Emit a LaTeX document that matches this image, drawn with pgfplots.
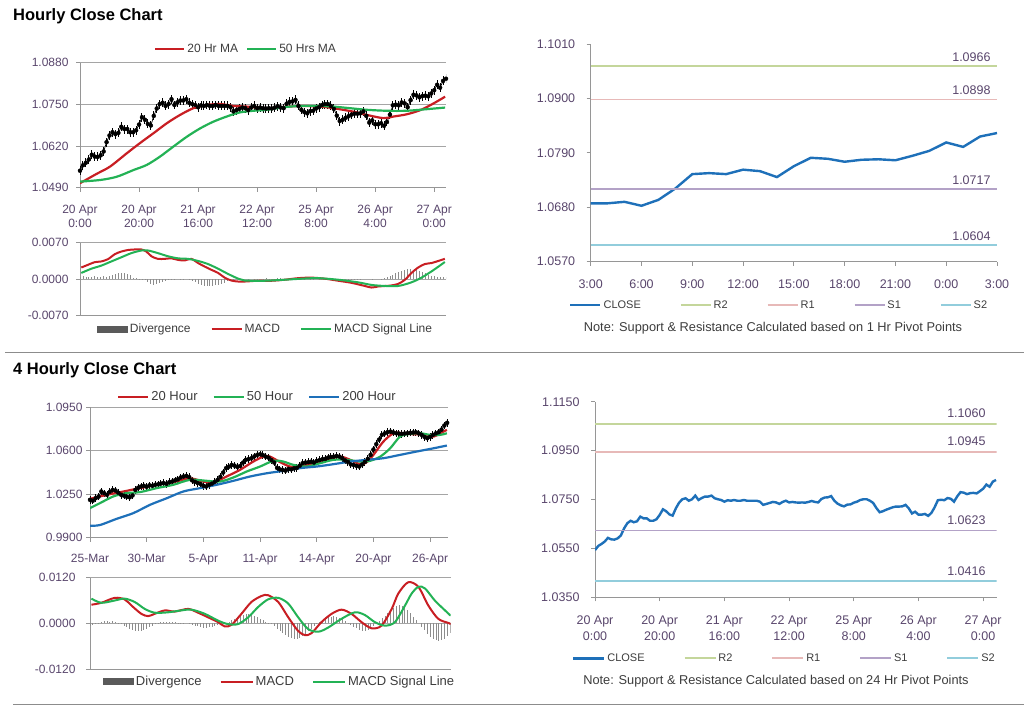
\documentclass[border=0pt]{standalone}
\usepackage{fontspec}
\setmainfont{Liberation Sans}
\usepackage{pgfplots}
\usepackage{pgfplotstable}
\pgfplotsset{compat=1.18}

\definecolor{tickcol}{RGB}{89,70,108}
\definecolor{legtext}{RGB}{60,60,60}
\definecolor{axgray}{RGB}{150,150,150}
\definecolor{gridgray}{RGB}{165,165,165}
\definecolor{mared}{RGB}{200,30,35}
\definecolor{magreen}{RGB}{35,178,85}
\definecolor{closeblue}{RGB}{30,112,185}
\definecolor{rtwo}{RGB}{196,214,155}
\definecolor{rone}{RGB}{231,185,184}
\definecolor{sone}{RGB}{179,162,199}
\definecolor{stwo}{RGB}{146,205,220}
\definecolor{divgray}{RGB}{140,140,140}
\definecolor{divleg}{RGB}{90,90,90}
\definecolor{sepgray}{RGB}{140,140,140}

\newcommand{\tkf}{\fontsize{12}{13.4}\selectfont}
\newcommand{\tkr}{\fontsize{12.5}{15.5}\selectfont}

\pgfplotsset{
 base/.style={scale only axis, anchor=south west,
   axis x line*=bottom, axis y line*=left,
   axis line style={draw=axgray, line width=1pt},
   tick style={draw=axgray, line width=0.8pt},
   tick align=outside, major tick length=4pt,
   scaled y ticks=false, scaled x ticks=false,
   ticklabel style={font=\tkf, text=tickcol},
   grid style={draw=gridgray, line width=1pt}},
 leg/.style n args={5}{legend style={at={(#1,#2)}, anchor=west, draw=none, fill=none,
   inner sep=0pt, font=\fontsize{#5}{14}\selectfont, text=legtext, legend columns=-1,
   cells={anchor=west}, nodes={inner sep=2pt},
   /tikz/every even column/.append style={column sep=#3}},
   legend image code/.code={\draw[##1] (0pt,0pt) -- (#4,0pt);}},
 ohlc/.style={black, only marks, mark=none, forget plot,
   error bars/.cd, y dir=both, y fixed=#1, error mark=none,
   error bar style={line width=1pt, black}},
}

% ---------------- hourly close (20 Apr 0:00 = 0) ----------------
\pgfplotstableread{
i c
0 1.0543
1 1.0560
2 1.0568
3 1.0578
4 1.0593
5 1.0587
6 1.0586
7 1.0591
8 1.0603
9 1.0632
10 1.0653
11 1.0663
12 1.0657
13 1.0661
14 1.0680
15 1.0673
16 1.0673
17 1.0663
18 1.0663
19 1.0669
20 1.0687
21 1.0710
22 1.0702
23 1.0689
24 1.0684
25 1.0714
26 1.0737
27 1.0751
28 1.0755
29 1.0745
30 1.0751
31 1.0766
32 1.0748
33 1.0756
34 1.0762
35 1.0762
36 1.0766
37 1.0755
38 1.0751
39 1.0748
40 1.0741
41 1.0747
42 1.0745
43 1.0748
44 1.0745
45 1.0745
46 1.0748
47 1.0745
48 1.0745
49 1.0745
50 1.0745
51 1.0741
52 1.0728
53 1.0732
54 1.0736
55 1.0740
56 1.0738
57 1.0732
58 1.0740
59 1.0745
60 1.0738
61 1.0740
62 1.0738
63 1.0737
64 1.0738
65 1.0737
66 1.0740
67 1.0744
68 1.0740
69 1.0738
70 1.0752
71 1.0758
72 1.0759
73 1.0764
74 1.0745
75 1.0733
76 1.0726
77 1.0722
78 1.0729
79 1.0730
80 1.0737
81 1.0741
82 1.0748
83 1.0751
84 1.0751
85 1.0745
86 1.0736
87 1.0715
88 1.0698
89 1.0702
90 1.0708
91 1.0713
92 1.0718
93 1.0721
94 1.0721
95 1.0722
96 1.0728
97 1.0714
98 1.0693
99 1.0700
100 1.0688
101 1.0688
102 1.0691
103 1.0683
104 1.0695
105 1.0718
106 1.0747
107 1.0749
108 1.0747
109 1.0756
110 1.0753
111 1.0741
112 1.0763
113 1.0780
114 1.0778
115 1.0772
116 1.0776
117 1.0777
118 1.0775
119 1.0784
120 1.0794
121 1.0811
122 1.0802
123 1.0823
124 1.0830
}\hourly

\pgfplotstableread{
h c
0 1.0688
1 1.0688
2 1.0691
3 1.0683
4 1.0695
5 1.0718
6 1.0747
7 1.0749
8 1.0747
9 1.0756
10 1.0753
11 1.0741
12 1.0763
13 1.0780
14 1.0778
15 1.0772
16 1.0776
17 1.0777
18 1.0775
19 1.0784
20 1.0794
21 1.0811
22 1.0802
23 1.0823
24 1.0830
}\lastday

\pgfplotstableread{
i v
0 1.0504
5.6 1.0533
10.2 1.0556
15.8 1.0597
20.3 1.0629
24.9 1.0660
29.4 1.0691
33.9 1.0717
38.4 1.0738
42.9 1.0748
47.5 1.0751
52 1.0745
56.5 1.0743
63.3 1.0738
67.8 1.0741
74.6 1.0745
81.4 1.0743
85.9 1.0738
92.7 1.0727
97.2 1.0717
102.8 1.0707
106.2 1.0712
110.7 1.0719
115.3 1.0732
119.8 1.0753
123.7 1.0774
}\tlmatw

\pgfplotstableread{
i v
0 1.0509
6.8 1.0514
12.4 1.0524
18.1 1.0545
22.6 1.0561
27.1 1.0587
31.6 1.0618
36.2 1.0649
40.7 1.0675
45.2 1.0696
49.7 1.0712
54.2 1.0725
58.8 1.0730
63.3 1.0733
68.9 1.0741
74.6 1.0745
81.4 1.0745
85.9 1.0743
91.5 1.0738
97.2 1.0733
103.9 1.0730
110.7 1.0730
117.5 1.0735
123.7 1.0740
}\tlmafi

\pgfplotstableread{
i v
0.45 0.00225
2.7 0.00276
5.0 0.00327
7.2 0.0034
9.5 0.00385
11.8 0.0048
14.0 0.0053
16.3 0.0056
18.5 0.0057
20.8 0.0057
22.5 0.0053
24.2 0.0044
26.4 0.0039
28.7 0.0039
31.0 0.0040
33.2 0.0037
35.5 0.0036
37.7 0.0039
40.0 0.0031
42.3 0.0024
44.5 0.0018
46.8 0.0012
49.0 0.0003
51.3 -0.00026
53.6 -0.00045
55.8 -0.00045
60.3 -0.0003
64.9 -0.0003
69.4 -0.0001
73.9 0.0002
78.4 0.0003
82.9 0.0001
87.5 -0.0003
92.0 -0.0007
96.5 -0.0013
98.8 -0.0016
101.0 -0.0014
103.5 -0.0013
105.5 -0.0012
107.8 -0.0009
110.1 -0.0001
112.3 0.0012
114.6 0.00225
116.8 0.0029
119.1 0.0031
121.4 0.0035
123.6 0.0039
}\tlmacd

\pgfplotstableread{
i v
0.45 0.0012
3.8 0.0020
7.2 0.0026
10.6 0.0034
14.0 0.0042
17.4 0.0050
20.8 0.0055
23.1 0.0055
26.4 0.0050
29.8 0.0044
33.2 0.0040
36.6 0.0039
40.0 0.0035
43.4 0.0029
46.8 0.0020
50.2 0.0010
53.6 0.0001
55.8 -0.00026
62.6 -0.0003
69.4 -0.0001
76.2 0.00013
80.7 0.0002
87.5 -0.0001
94.2 -0.0006
98.8 -0.0011
103.3 -0.0013
107.8 -0.0013
112.3 -0.0006
115.7 0.0003
119.1 0.0015
121.4 0.0024
123.6 0.0033
}\tlsig

\pgfplotstableread{
i d
0 0.0005
1 0.0006
2 0.0005
3 0.0004
4 0.0005
5 0.0006
6 0.0004
7 0.0005
8 0.0006
9 0.0005
10 0.0007
11 0.0009
12 0.0010
13 0.0012
14 0.0011
15 0.0012
16 0.0010
17 0.0008
18 0.0003
19 0.0002
20 0.0001
21 0.0001
22 -0.0002
23 -0.0005
24 -0.0009
25 -0.0011
26 -0.0010
27 -0.0008
28 -0.0006
29 -0.0004
30 -0.0001
31 -0.0001
32 0.0001
33 0.0000
34 -0.0001
35 -0.0002
36 0.0000
37 -0.0001
38 -0.0003
39 -0.0006
40 -0.0009
41 -0.0011
42 -0.0013
43 -0.0014
44 -0.0014
45 -0.0013
46 -0.0012
47 -0.0011
48 -0.0009
49 -0.0007
50 -0.0004
51 -0.0002
52 -0.0001
53 0.0000
54 0.0000
55 0.0001
56 0.0000
57 -0.0001
58 0.0000
59 0.0001
60 0.0001
61 0.0000
62 0.0001
63 0.0002
64 0.0001
65 0.0000
66 0.0001
67 0.0002
68 0.0002
69 0.0001
70 0.0000
71 0.0001
72 0.0002
73 0.0001
74 0.0000
75 -0.0001
76 -0.0001
77 0.0000
78 0.0001
79 0.0001
80 0.0000
81 -0.0001
82 0.0000
83 0.0001
84 0.0000
85 -0.0001
86 -0.0001
87 -0.0002
88 -0.0003
89 -0.0003
90 -0.0002
91 -0.0003
92 -0.0002
93 -0.0001
94 -0.0002
95 -0.0001
96 0.0000
97 0.0000
98 0.0000
99 0.0001
100 0.0000
101 0.0000
102 0.0001
103 0.0002
104 0.0004
105 0.0006
106 0.0008
107 0.0011
108 0.0014
109 0.0016
110 0.0018
111 0.0019
112 0.0019
113 0.0018
114 0.0017
115 0.0015
116 0.0013
117 0.0011
118 0.0009
119 0.0007
120 0.0006
121 0.0005
122 0.0005
123 0.0004
124 0.0004
}\tldiv

% ---------------- 4-hourly ----------------
\pgfplotstableread{
j c
0 1.0205
1 1.0198
2 1.0218
3 1.0230
4 1.0272
5 1.0258
6 1.0245
7 1.0270
8 1.0285
9 1.0280
10 1.0262
11 1.0245
12 1.0238
13 1.0230
14 1.0225
15 1.0240
16 1.0285
17 1.0302
18 1.0312
19 1.0318
20 1.0310
21 1.0322
22 1.0318
23 1.0326
24 1.0330
25 1.0336
26 1.0340
27 1.0334
28 1.0347
29 1.0352
30 1.0362
31 1.0370
32 1.0385
33 1.0393
34 1.0398
35 1.0388
36 1.0362
37 1.0350
38 1.0340
39 1.0332
40 1.0318
41 1.0312
42 1.0326
43 1.0335
44 1.0348
45 1.0365
46 1.0390
47 1.0425
48 1.0460
49 1.0472
50 1.0486
51 1.0480
52 1.0470
53 1.0478
54 1.0505
55 1.0527
56 1.0533
57 1.0540
58 1.0555
59 1.0567
60 1.0572
61 1.0565
62 1.0552
63 1.0545
64 1.0525
65 1.0505
66 1.0462
67 1.0450
68 1.0446
69 1.0440
70 1.0454
71 1.0450
72 1.0458
73 1.0462
74 1.0480
75 1.0500
76 1.0505
77 1.0508
78 1.0512
79 1.0505
80 1.0519
81 1.0525
82 1.0532
83 1.0535
84 1.0545
85 1.0550
86 1.0553
87 1.0558
88 1.0553
89 1.0540
90 1.0522
91 1.0510
92 1.0490
93 1.0486
94 1.0478
95 1.0473
96 1.0490
97 1.0510
98 1.0535
99 1.0567
100 1.0610
101 1.0653
102 1.0690
103 1.0728
104 1.0740
105 1.0750
106 1.0754
107 1.0748
108 1.0741
109 1.0738
110 1.0736
111 1.0739
112 1.0741
113 1.0745
114 1.0747
115 1.0749
116 1.0740
117 1.0728
118 1.0712
119 1.0701
120 1.0712
121 1.0728
122 1.0740
123 1.0749
124 1.0770
125 1.0803
126 1.0825
}\fourh

\pgfplotstableread{
j v
0 1.0213
5.9 1.0245
11.8 1.0272
17.6 1.0299
23.5 1.0326
29.4 1.0347
35.3 1.0379
38.8 1.0358
43.5 1.0344
48.2 1.0393
52.9 1.0446
57.6 1.0513
61.2 1.0553
63.5 1.0553
67.1 1.0508
70.6 1.0473
74.1 1.0473
78.8 1.0500
83.5 1.0527
88.2 1.0553
91.8 1.0527
95.3 1.0492
97.6 1.0508
100 1.0567
103.5 1.0674
107.1 1.0741
110.6 1.0741
114.1 1.0733
117.6 1.0733
121.2 1.0714
123.5 1.0741
125.9 1.0768
}\blmatw

\pgfplotstableread{
j v
0 1.0138
3.5 1.0178
8.2 1.0232
12.9 1.0259
17.6 1.0267
23.5 1.0299
29.4 1.0326
35.3 1.0366
41.2 1.0358
45.9 1.0352
50.6 1.0385
55.3 1.0433
60 1.0473
64.7 1.0519
68.2 1.0513
71.8 1.0486
76.5 1.0473
81.2 1.0500
85.9 1.0527
90.6 1.0527
95.3 1.0513
98.8 1.0519
102.4 1.0553
105.9 1.0620
109.4 1.0714
112.9 1.0736
116.5 1.0741
120 1.0728
123.5 1.0728
125.9 1.0741
}\blmafi

\pgfplotstableread{
j v
0 0.9996
3.5 1.0002
9.4 1.0052
15.3 1.0098
21.2 1.0165
27.1 1.0218
32.9 1.0272
38.8 1.0299
44.7 1.0326
50.6 1.0358
56.5 1.0393
62.4 1.0419
68.2 1.0438
74.1 1.0460
80 1.0473
85.9 1.0492
91.8 1.0513
97.6 1.0527
103.5 1.0540
109.4 1.0567
115.3 1.0594
121.2 1.0620
125.9 1.0642
}\blmatwh

\pgfplotstableread{
j v
0.5 0.0049
4.0 0.0054
8.7 0.0067
12.2 0.0063
14.6 0.0047
18.1 0.0025
20.5 0.0019
22.8 0.0025
26.4 0.0034
29.9 0.0031
34.6 0.0038
38.1 0.0028
41.6 0.0016
45.2 0.0003
47.5 -0.0008
49.9 -0.0004
53.4 0.0025
56.9 0.0056
60.5 0.0072
62.8 0.0074
66.4 0.0056
69.9 0.0016
73.4 -0.0020
75.8 -0.0031
78.1 -0.0026
81.6 0.0003
85.2 0.0025
88.7 0.0036
92.2 0.0025
95.8 0.0003
99.3 -0.0013
102.8 -0.0006
106.4 0.0038
108.7 0.0078
112.2 0.0108
115.8 0.0096
119.3 0.0047
122.8 0.0012
126.4 0.0001
127.2 -0.0002
}\blmacd

\pgfplotstableread{
j v
0.5 0.0065
4.0 0.0054
8.7 0.0060
12.2 0.0065
15.8 0.0056
19.3 0.0038
22.8 0.0028
27.5 0.0029
32.2 0.0034
35.8 0.0036
40.5 0.0025
45.2 0.0007
48.7 -0.0002
52.2 -0.0002
55.8 0.0016
59.3 0.0043
62.8 0.0063
66.4 0.0067
69.9 0.0052
73.4 0.0016
76.9 -0.0015
80.5 -0.0022
84.0 -0.0011
88.7 0.0012
93.4 0.0029
96.9 0.0022
100.5 0.0003
104.0 -0.0006
107.5 0.0003
111.1 0.0047
113.4 0.0078
115.8 0.0096
118.1 0.0092
121.6 0.0060
125.2 0.0034
127.2 0.0020
}\blsig

\pgfplotstableread{
j d
0 -0.0006
1 -0.0004
2 -0.0001
3 0.0002
4 0.0004
5 0.0005
6 0.0005
7 0.0004
8 0.0005
9 0.0003
10 0.0001
11 -0.0002
12 -0.0006
13 -0.0010
14 -0.0014
15 -0.0017
16 -0.0019
17 -0.0020
18 -0.0019
19 -0.0017
20 -0.0014
21 -0.0010
22 -0.0006
23 -0.0002
24 0.0001
25 0.0003
26 0.0004
27 0.0004
28 0.0003
29 0.0004
30 0.0003
31 0.0002
32 0.0002
33 0.0001
34 0.0000
35 -0.0002
36 -0.0004
37 -0.0006
38 -0.0008
39 -0.0010
40 -0.0011
41 -0.0011
42 -0.0010
43 -0.0009
44 -0.0007
45 -0.0005
46 -0.0003
47 -0.0001
48 0.0001
49 0.0004
50 0.0008
51 0.0012
52 0.0016
53 0.0020
54 0.0023
55 0.0025
56 0.0025
57 0.0023
58 0.0020
59 0.0016
60 0.0012
61 0.0008
62 0.0004
63 0.0001
64 -0.0003
65 -0.0008
66 -0.0014
67 -0.0020
68 -0.0026
69 -0.0031
70 -0.0035
71 -0.0038
72 -0.0040
73 -0.0040
74 -0.0038
75 -0.0034
76 -0.0028
77 -0.0021
78 -0.0014
79 -0.0007
80 -0.0001
81 0.0004
82 0.0009
83 0.0013
84 0.0016
85 0.0018
86 0.0019
87 0.0018
88 0.0015
89 0.0011
90 0.0006
91 0.0001
92 -0.0004
93 -0.0009
94 -0.0013
95 -0.0017
96 -0.0019
97 -0.0020
98 -0.0017
99 -0.0012
100 -0.0006
101 0.0000
102 0.0006
103 0.0013
104 0.0020
105 0.0027
106 0.0034
107 0.0040
108 0.0045
109 0.0047
110 0.0046
111 0.0042
112 0.0035
113 0.0027
114 0.0018
115 0.0009
116 0.0000
117 -0.0009
118 -0.0018
119 -0.0027
120 -0.0035
121 -0.0041
122 -0.0045
123 -0.0046
124 -0.0044
125 -0.0040
126 -0.0034
127 -0.0026
}\bldiv

\begin{document}
\begin{tikzpicture}
\useasboundingbox (0pt,0pt) rectangle (1024pt,706pt);

% titles and separators
\node[anchor=base west, inner sep=0pt, font=\fontsize{16.5}{18}\selectfont\bfseries] at (13pt,685.3pt) {Hourly Close Chart};
\node[anchor=base west, inner sep=0pt, font=\fontsize{16.5}{18}\selectfont\bfseries] at (13pt,331pt) {4 Hourly Close Chart};
\draw[sepgray, line width=1.5pt] (5pt,353.5pt) -- (1024pt,353.5pt);
\draw[sepgray, line width=1.5pt] (13pt,1.5pt) -- (1024pt,1.5pt);
\node[font=\fontsize{12.8}{14}\selectfont, text=legtext] at (773pt,378pt) {Note: Support \& Resistance Calculated based on 1 Hr Pivot Points};
\node[font=\fontsize{12.8}{14}\selectfont, text=legtext] at (776pt,25pt) {Note: Support \& Resistance Calculated based on 24 Hr Pivot Points};

% ===== top-left price =====
\begin{axis}[base, at={(80pt,518.3pt)}, width=366pt, height=125pt,
  xmin=0, xmax=124, ymin=1.049, ymax=1.088,
  ytick={1.049,1.062,1.075,1.088}, yticklabels={1.0490,1.0620,1.0750,1.0880},
  yticklabel style={xshift=-4pt},
  xtick={0,20,...,120},
  xticklabels={{20 Apr\\0:00},{20 Apr\\20:00},{21 Apr\\16:00},{22 Apr\\12:00},{25 Apr\\8:00},{26 Apr\\4:00},{27 Apr\\0:00}},
  xticklabel style={align=center, yshift=-10pt},
  ymajorgrids, leg={0.2022}{1.1096}{6pt}{29pt}{12}]
\addplot[black, line width=0.7pt, forget plot] table[x=i,y=c] {\hourly};
\addplot[ohlc=0.0014] table[x=i,y=c] {\hourly};
\addplot[mared, line width=2.2pt, smooth] table[x=i,y=v] {\tlmatw};
\addlegendentry{20 Hr MA}
\addplot[magreen, line width=2.2pt, smooth] table[x=i,y=v] {\tlmafi};
\addlegendentry{50 Hrs MA}
\end{axis}

% ===== top-left MACD =====
\begin{axis}[base, at={(80pt,390.3pt)}, width=366pt, height=73pt,
  xmin=0, xmax=124, ymin=-0.007, ymax=0.007, xtick=\empty,
  ytick={-0.007,0,0.007}, yticklabels={-0.0070,0.0000,0.0070},
  yticklabel style={xshift=-4pt},
  ymajorgrids, leg={0.0464}{-0.182}{18pt}{30pt}{12}]
\addplot[ycomb, divgray, line width=0.8pt,
  legend image code/.code={\fill[divleg] (0pt,-3pt) rectangle (30pt,3pt);}] table[x=i,y=d] {\tldiv};
\addlegendentry{Divergence}
\addplot[mared, line width=2pt, smooth] table[x=i,y=v] {\tlmacd};
\addlegendentry{MACD}
\addplot[magreen, line width=2pt, smooth] table[x=i,y=v] {\tlsig};
\addlegendentry{MACD Signal Line}
\end{axis}

% ===== top-right =====
\begin{axis}[base, at={(590.7pt,444.3pt)}, width=406.3pt, height=217.7pt,
  xmin=0, xmax=24, ymin=1.057, ymax=1.101,
  ticklabel style={font=\tkr},
  yticklabel style={xshift=-8pt},
  xticklabel style={yshift=-11pt},
  xtick={0,3,...,24}, xticklabels={3:00,6:00,9:00,12:00,15:00,18:00,21:00,0:00,3:00},
  ytick={1.057,1.068,1.079,1.090,1.101}, yticklabels={1.0570,1.0680,1.0790,1.0900,1.1010},
  leg={-0.0534}{-0.2003}{37pt}{30pt}{11}]
\addplot[closeblue, line width=2.4pt] table[x=h,y=c] {\lastday};
\addlegendentry{CLOSE}
\addplot[rtwo, line width=1.8pt] coordinates {(0,1.0966) (24,1.0966)};
\addlegendentry{R2}
\addplot[rone, line width=1.8pt] coordinates {(0,1.0898) (24,1.0898)};
\addlegendentry{R1}
\addplot[sone, line width=1.8pt] coordinates {(0,1.0717) (24,1.0717)};
\addlegendentry{S1}
\addplot[stwo, line width=1.8pt] coordinates {(0,1.0604) (24,1.0604)};
\addlegendentry{S2}
\node[anchor=base east, inner sep=0pt, font=\tkr, text=tickcol, yshift=4.5pt] at (axis cs:23.63,1.0966) {1.0966};
\node[anchor=base east, inner sep=0pt, font=\tkr, text=tickcol, yshift=4.5pt] at (axis cs:23.63,1.0898) {1.0898};
\node[anchor=base east, inner sep=0pt, font=\tkr, text=tickcol, yshift=4.5pt] at (axis cs:23.63,1.0717) {1.0717};
\node[anchor=base east, inner sep=0pt, font=\tkr, text=tickcol, yshift=4.5pt] at (axis cs:23.63,1.0604) {1.0604};
\end{axis}

% ===== bottom-left price =====
\begin{axis}[base, at={(90pt,168.3pt)}, width=358pt, height=130.4pt,
  xmin=0, xmax=126.3, ymin=0.99, ymax=1.095,
  ytick={0.99,1.025,1.06,1.095}, yticklabels={0.9900,1.0250,1.0600,1.0950},
  xticklabel style={yshift=-9pt},
  xtick={0,20,...,120}, xticklabels={25-Mar,30-Mar,5-Apr,11-Apr,14-Apr,20-Apr,26-Apr},
  ymajorgrids, leg={0.0754}{1.0813}{13pt}{30pt}{13}]
\addplot[black, line width=0.7pt, forget plot] table[x=j,y=c] {\fourh};
\addplot[ohlc=0.003] table[x=j,y=c] {\fourh};
\addplot[mared, line width=2.2pt, smooth] table[x=j,y=v] {\blmatw};
\addlegendentry{20 Hour}
\addplot[magreen, line width=2.2pt, smooth] table[x=j,y=v] {\blmafi};
\addlegendentry{50 Hour}
\addplot[closeblue, line width=2.2pt, smooth] table[x=j,y=v] {\blmatwh};
\addlegendentry{200 Hour}
\end{axis}

% ===== bottom-left MACD =====
\begin{axis}[base, at={(90pt,37pt)}, width=360.7pt, height=91.3pt,
  xmin=0, xmax=127.2, ymin=-0.012, ymax=0.012, xtick=\empty,
  ytick={-0.012,0,0.012}, yticklabels={-0.0120,0.0000,0.0120},
  yticklabel style={xshift=-7pt},
  ymajorgrids, leg={0.036}{-0.139}{16pt}{32pt}{13}]
\addplot[ycomb, divgray, line width=0.8pt,
  legend image code/.code={\fill[divleg] (0pt,-3pt) rectangle (30pt,3pt);}] table[x=j,y=d] {\bldiv};
\addlegendentry{Divergence}
\addplot[mared, line width=2pt, smooth] table[x=j,y=v] {\blmacd};
\addlegendentry{MACD}
\addplot[magreen, line width=2pt, smooth] table[x=j,y=v] {\blsig};
\addlegendentry{MACD Signal Line}
\end{axis}

% ===== bottom-right =====
\begin{axis}[base, at={(595pt,108.7pt)}, width=401.7pt, height=195.6pt,
  xmin=0, xmax=124.2, ymin=1.035, ymax=1.115,
  ticklabel style={font=\tkr},
  yticklabel style={xshift=-8pt},
  xtick={0,20,...,120},
  xticklabels={{20 Apr\\0:00},{20 Apr\\20:00},{21 Apr\\16:00},{22 Apr\\12:00},{25 Apr\\8:00},{26 Apr\\4:00},{27 Apr\\0:00}},
  xticklabel style={align=center, yshift=-11pt},
  ytick={1.035,1.055,1.075,1.095,1.115}, yticklabels={1.0350,1.0550,1.0750,1.0950,1.1150},
  leg={-0.058}{-0.312}{37pt}{31pt}{11}]
\addplot[closeblue, line width=2.4pt] table[x=i,y=c] {\hourly};
\addlegendentry{CLOSE}
\addplot[rtwo, line width=1.8pt] coordinates {(0,1.1060) (124.2,1.1060)};
\addlegendentry{R2}
\addplot[rone, line width=1.8pt] coordinates {(0,1.0945) (124.2,1.0945)};
\addlegendentry{R1}
\addplot[sone, line width=1.8pt] coordinates {(0,1.0623) (124.2,1.0623)};
\addlegendentry{S1}
\addplot[stwo, line width=1.8pt] coordinates {(0,1.0416) (124.2,1.0416)};
\addlegendentry{S2}
\node[anchor=base east, inner sep=0pt, font=\tkr, text=tickcol, yshift=6pt] at (axis cs:120.8,1.1060) {1.1060};
\node[anchor=base east, inner sep=0pt, font=\tkr, text=tickcol, yshift=6pt] at (axis cs:120.8,1.0945) {1.0945};
\node[anchor=base east, inner sep=0pt, font=\tkr, text=tickcol, yshift=6pt] at (axis cs:120.8,1.0623) {1.0623};
\node[anchor=base east, inner sep=0pt, font=\tkr, text=tickcol, yshift=6pt] at (axis cs:120.8,1.0416) {1.0416};
\end{axis}
\end{tikzpicture}
\end{document}
